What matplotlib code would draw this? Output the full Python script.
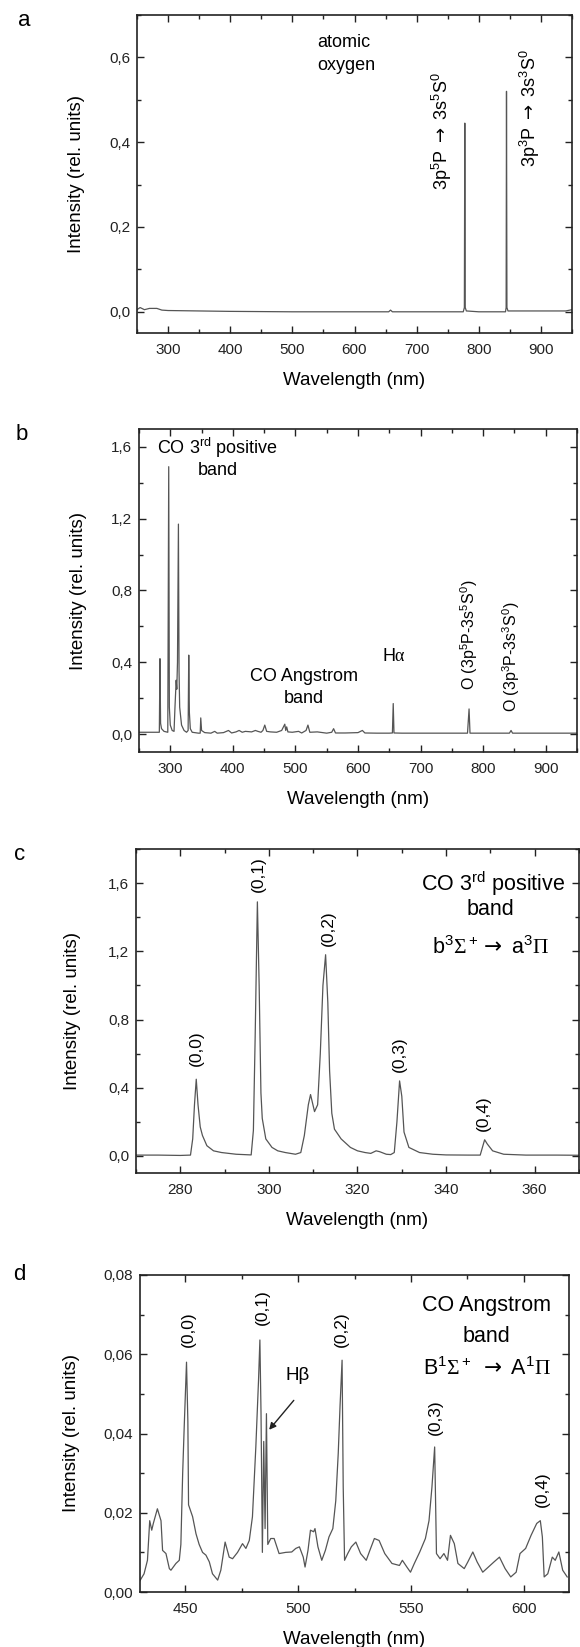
import matplotlib
matplotlib.use("Agg")
import matplotlib.pyplot as plt
from matplotlib.ticker import MultipleLocator

plt.rcParams['font.family'] = ['Liberation Sans', 'DejaVu Sans']
plt.rcParams['mathtext.fontset'] = 'custom'
plt.rcParams['mathtext.rm'] = 'Liberation Sans'
plt.rcParams['mathtext.it'] = 'Liberation Sans:italic'
plt.rcParams['mathtext.bf'] = 'Liberation Sans:bold'
plt.rcParams['mathtext.sf'] = 'Liberation Serif'
plt.rcParams['mathtext.tt'] = 'DejaVu Sans'

# ---------------- data ----------------
# panel a: atomic oxygen lines
a_wl = [250, 255, 262, 270, 282, 290, 300, 350, 400, 500, 600, 655, 658, 661, 700, 775,
        776.8, 777.5, 778.2, 780, 800, 843, 844, 844.6, 845.3, 847, 900, 940, 950]
a_int = [0.005, 0.010, 0.005, 0.008, 0.008, 0.004, 0.003, 0.002, 0.001, 0.0, 0.0, 0.0, 0.004, 0.0, 0.0, 0.0,
         0.01, 0.445, 0.01, 0.002, 0.0, 0.0, 0.01, 0.52, 0.01, 0.002, 0.002, 0.002, 0.005]

# panel b: full spectrum
b_wl = [250, 270, 282.5, 283.5, 284.5, 286, 290, 296, 297.5, 298.5, 300, 303, 306, 307.5, 309.4, 310.4,
        311.5, 313, 314, 315, 318, 322, 326, 328.5, 329.5, 330.5, 332, 335, 345, 347.8, 348.7, 350,
        355, 365, 371, 375, 385, 393, 398, 405, 410, 415, 420, 430, 436, 440, 445, 448, 451, 454,
        460, 470, 478, 483, 484.5, 486, 488, 495, 505, 510, 517, 520, 523, 535, 550, 558, 561, 564,
        580, 600, 607, 611, 630, 650, 655, 656.3, 657.5, 670, 700, 750, 775, 777.5, 779, 800, 842,
        844.6, 847, 900, 950]
b_int = [0.01, 0.01, 0.01, 0.42, 0.06, 0.03, 0.015, 0.01, 1.49, 0.15, 0.05, 0.02, 0.015, 0.15, 0.30, 0.25,
         0.40, 1.17, 0.35, 0.15, 0.05, 0.02, 0.01, 0.02, 0.44, 0.12, 0.03, 0.01, 0.005, 0.005, 0.09, 0.02,
         0.008, 0.005, 0.015, 0.005, 0.008, 0.02, 0.006, 0.012, 0.02, 0.01, 0.015, 0.012, 0.02, 0.015, 0.01, 0.02, 0.05, 0.015,
         0.012, 0.01, 0.02, 0.055, 0.02, 0.04, 0.012, 0.01, 0.015, 0.006, 0.02, 0.05, 0.01, 0.012, 0.005, 0.01, 0.03, 0.006,
         0.006, 0.008, 0.02, 0.006, 0.005, 0.005, 0.006, 0.17, 0.006, 0.005, 0.005, 0.005, 0.005, 0.14, 0.005, 0.005, 0.005,
         0.02, 0.005, 0.005, 0.005]

# panel c: CO 3rd positive band
c_wl = [270, 275, 280, 282.3, 282.8, 283.2, 283.6, 284.0, 284.5, 285, 286, 287.5, 289.3, 292.6, 296.0,
        296.5, 296.9, 297.4, 297.8, 298.2, 298.5, 299.3, 300.7, 302, 303.7, 306.0, 307.2, 308.0, 308.9,
        309.4, 310.3, 311.0, 311.6, 312.2, 312.8, 313.3, 313.7, 314.2, 314.8, 316.3, 318.4, 320, 321.7,
        323, 324.2, 325, 326.5, 327.5, 328.3, 328.9, 329.5, 330.0, 330.5, 331.6, 334, 337, 340, 345,
        347.7, 348.2, 348.7, 349.3, 350.5, 353, 358, 365, 370]
c_int = [0.005, 0.005, 0.003, 0.005, 0.10, 0.30, 0.45, 0.30, 0.17, 0.12, 0.06, 0.03, 0.02, 0.01, 0.006,
         0.15, 0.70, 1.49, 1.00, 0.37, 0.22, 0.10, 0.05, 0.03, 0.02, 0.01, 0.02, 0.12, 0.30,
         0.36, 0.26, 0.30, 0.60, 1.00, 1.18, 0.90, 0.50, 0.25, 0.157, 0.10, 0.05, 0.03, 0.02,
         0.015, 0.03, 0.025, 0.01, 0.008, 0.02, 0.20, 0.44, 0.35, 0.14, 0.05, 0.02, 0.01, 0.006, 0.005,
         0.005, 0.05, 0.095, 0.07, 0.03, 0.01, 0.005, 0.005, 0.004]

# panel d: CO Angstrom band
d_wl = [429.6, 431.8, 433.3, 434.3, 435.2, 435.9, 437.7, 439.3, 440.0, 441.5, 443.0, 443.7, 445.9,
        447.4, 448.1, 448.9, 449.6, 450.6, 451.2, 451.5, 453.3, 454.8, 456.2, 457.7, 459.2, 460.7,
        462.1, 464.4, 465.8, 467.7, 469.5, 471.0, 473.2, 475.4, 476.9, 478.4, 479.8, 481.3, 482.5,
        483.1, 483.6, 484.2, 484.8, 485.4, 486.0, 486.6, 487.9, 489.4, 491.6, 494.5, 497.2, 499.0,
        500.6, 502.3, 503.1, 504.4, 505.5, 506.9, 507.5, 508.8, 510.5, 512.1, 513.7, 515.4, 516.7,
        517.8, 518.6, 519.5, 520.0, 520.6, 522.0, 523.6, 525.6, 527.7, 530.2, 531.8, 533.8, 535.9,
        538.4, 541.6, 544.9, 546.2, 548.2, 549.8, 551.5, 553.9, 556.4, 558.0, 559.3, 560.5, 561.3,
        562.9, 564.6, 566.2, 567.5, 569.2, 570.8, 573.6, 575.2, 577.4, 579.3, 581.8, 584.3, 586.8,
        589.2, 591.7, 594.2, 596.6, 598.3, 600.8, 603.2, 605.7, 607.3, 608.2, 609.0, 610.6, 612.6,
        613.9, 615.5, 617.2, 619.2]
d_int = [0.0025, 0.0046, 0.008, 0.018, 0.0156, 0.0173, 0.021, 0.018, 0.0105, 0.0097, 0.0059, 0.0055, 0.0072,
         0.008, 0.012, 0.030, 0.042, 0.058, 0.043, 0.022, 0.019, 0.0147, 0.012, 0.010, 0.0093, 0.0076,
         0.0046, 0.003, 0.0055, 0.0126, 0.0088, 0.0084, 0.010, 0.0122, 0.011, 0.013, 0.019, 0.0366, 0.0535,
         0.0636, 0.045, 0.010, 0.038, 0.016, 0.045, 0.012, 0.0135, 0.0135, 0.0097, 0.010, 0.0101, 0.011,
         0.0114, 0.0088, 0.0063, 0.0105, 0.0156, 0.0152, 0.016, 0.0114, 0.008, 0.0105, 0.0139, 0.016, 0.023,
         0.035, 0.047, 0.0585, 0.0265, 0.008, 0.0097, 0.0114, 0.0126, 0.0097, 0.008, 0.0105, 0.0135, 0.013,
         0.0097, 0.0072, 0.0067, 0.008, 0.0063, 0.005, 0.0072, 0.0101, 0.0135, 0.018, 0.0265, 0.0366, 0.0097,
         0.0084, 0.0097, 0.008, 0.0143, 0.0122, 0.0072, 0.0059, 0.0076, 0.0101, 0.0076, 0.005, 0.0063, 0.0076,
         0.0088, 0.0059, 0.0038, 0.005, 0.0097, 0.011, 0.0143, 0.0173, 0.018, 0.0139, 0.0038, 0.0046, 0.0088,
         0.008, 0.0101, 0.0055, 0.0038]

# axes ranges and ticks
a_xlim, a_ylim = (250, 950), (-0.05, 0.70)
b_xlim, b_ylim = (250, 950), (-0.10, 1.70)
c_xlim, c_ylim = (270, 370), (-0.10, 1.80)
d_xlim, d_ylim = (430, 620), (0.0, 0.08)

ab_xticks = [300, 400, 500, 600, 700, 800, 900]
c_xticks = [280, 300, 320, 340, 360]
d_xticks = [450, 500, 550, 600]
a_yticks = [0.0, 0.2, 0.4, 0.6]
a_yticklabels = ['0,0', '0,2', '0,4', '0,6']
bc_yticks = [0.0, 0.4, 0.8, 1.2, 1.6]
bc_yticklabels = ['0,0', '0,4', '0,8', '1,2', '1,6']
d_yticks = [0.0, 0.02, 0.04, 0.06, 0.08]
d_yticklabels = ['0,00', '0,02', '0,04', '0,06', '0,08']

band_labels = ['(0,0)', '(0,1)', '(0,2)', '(0,3)', '(0,4)']
c_label_x = [283.6, 297.6, 313.4, 329.5, 348.4]
c_label_y = [0.53, 1.55, 1.23, 0.49, 0.145]
d_label_x = [451.5, 484.2, 519.3, 561.0, 608.0]
d_label_y = [0.0619, 0.0674, 0.0619, 0.0396, 0.0215]

XLABEL = 'Wavelength (nm)'
YLABEL = 'Intensity (rel. units)'
ARROW = r'$\mathtt{\rightarrow}$'

# ---------------- figure ----------------
W, H = 580, 1647
fig = plt.figure(figsize=(W / 100, H / 100), dpi=100)


def make_axes(left, right, top, bottom):
    return fig.add_axes([left / W, 1 - bottom / H, (right - left) / W, (bottom - top) / H])


LINE_COLOR = '#555555'


def style(ax, xlim, ylim, xticks, xminor, yticks, yticklabels, yminor):
    ax.set_xlim(*xlim)
    ax.set_ylim(*ylim)
    ax.set_xticks(xticks)
    ax.set_xticklabels([str(t) for t in xticks])
    ax.xaxis.set_minor_locator(MultipleLocator(xminor))
    ax.set_yticks(yticks)
    ax.set_yticklabels(yticklabels)
    ax.yaxis.set_minor_locator(MultipleLocator(yminor))
    ax.tick_params(which='both', direction='in', top=True, right=True, width=1.0, colors='#222222')
    ax.tick_params(which='major', length=5, labelsize=11)
    ax.tick_params(axis='x', which='major', pad=7)
    ax.tick_params(axis='y', which='major', pad=5)
    ax.tick_params(which='minor', length=3)
    for s in ax.spines.values():
        s.set_linewidth(1.2)
        s.set_color('#222222')
    ax.set_xlabel(XLABEL, fontsize=13.5, labelpad=11)
    ax.set_ylabel(YLABEL, fontsize=13.5)


# panel a
ax = make_axes(137, 572, 15, 333)
ax.plot(a_wl, a_int, color=LINE_COLOR, lw=0.9)
style(ax, a_xlim, a_ylim, ab_xticks, 50, a_yticks, a_yticklabels, 0.1)
ax.text(540, 0.635, 'atomic', fontsize=13, ha='left', va='center')
ax.text(540, 0.581, 'oxygen', fontsize=13, ha='left', va='center')
ax.text(740, 0.288, '3p$^5$P ' + ARROW + ' 3s$^5$S$^0$', fontsize=13, rotation=90, ha='center', va='bottom')
ax.text(882, 0.342, '3p$^3$P ' + ARROW + ' 3s$^3$S$^0$', fontsize=13, rotation=90, ha='center', va='bottom')
ax.yaxis.set_label_coords(-0.12, 0.5)

# panel b
ax = make_axes(139, 577, 429, 752)
ax.plot(b_wl, b_int, color=LINE_COLOR, lw=0.9)
style(ax, b_xlim, b_ylim, ab_xticks, 50, bc_yticks, bc_yticklabels, 0.2)
ax.text(376, 1.595, r'CO 3$^{\mathrm{rd}}$ positive', fontsize=13, ha='center', va='center')
ax.text(376, 1.467, 'band', fontsize=13, ha='center', va='center')
ax.text(514, 0.321, 'CO Angstrom', fontsize=13, ha='center', va='center')
ax.text(514, 0.197, 'band', fontsize=13, ha='center', va='center')
ax.text(657, 0.432, r'H$\mathsf{α}$', fontsize=13, ha='center', va='center')
ax.text(777, 0.247, 'O (3p$^5$P-3s$^5$S$^0$)', fontsize=11.5, rotation=90, ha='center', va='bottom')
ax.text(844, 0.124, 'O (3p$^3$P-3s$^3$S$^0$)', fontsize=11.5, rotation=90, ha='center', va='bottom')
ax.yaxis.set_label_coords(-0.119, 0.5)

# panel c
ax = make_axes(136, 579, 849, 1173)
ax.plot(c_wl, c_int, color=LINE_COLOR, lw=0.9)
style(ax, c_xlim, c_ylim, c_xticks, 10, bc_yticks, bc_yticklabels, 0.2)
for lab, x, y in zip(band_labels, c_label_x, c_label_y):
    ax.text(x, y, lab, fontsize=12.5, rotation=90, ha='center', va='bottom')
ax.text(350.5, 1.595, r'CO 3$^{\mathrm{rd}}$ positive', fontsize=15.5, ha='center', va='center')
ax.text(350.1, 1.448, 'band', fontsize=15.5, ha='center', va='center')
ax.text(350.1, 1.225, r'b$^3\mathsf{Σ}^+$' + ARROW + r' a$^3\mathsf{Π}$', fontsize=15.5, ha='center', va='center')
ax.yaxis.set_label_coords(-0.124, 0.5)

# panel d
ax = make_axes(140, 569, 1275, 1592)
ax.plot(d_wl, d_int, color=LINE_COLOR, lw=0.9)
style(ax, d_xlim, d_ylim, d_xticks, 25, d_yticks, d_yticklabels, 0.01)
for lab, x, y in zip(band_labels, d_label_x, d_label_y):
    ax.text(x, y, lab, fontsize=12.5, rotation=90, ha='center', va='bottom')
ax.text(500, 0.0547, 'Hβ', fontsize=13.5, ha='center', va='center')
ax.annotate('', xy=(486.4, 0.0404), xytext=(498.9, 0.0489),
            arrowprops=dict(arrowstyle='-|>', color='#222222', lw=1.0, mutation_scale=10))
ax.text(583.6, 0.0722, 'CO Angstrom', fontsize=15.5, ha='center', va='center')
ax.text(583.6, 0.0644, 'band', fontsize=15.5, ha='center', va='center')
ax.text(583.6, 0.0565, r'B$^1\mathsf{Σ}^+$ ' + ARROW + r' A$^1\mathsf{Π}$', fontsize=15.5, ha='center', va='center')
ax.yaxis.set_label_coords(-0.141, 0.5)

# panel letters
for letter, x, y in [('a', 24, 21), ('b', 22, 435), ('c', 20, 855), ('d', 19, 1275)]:
    fig.text(x / W, 1 - y / H, letter, fontsize=16, ha='center', va='center')

fig.savefig('out.png', dpi=100)
